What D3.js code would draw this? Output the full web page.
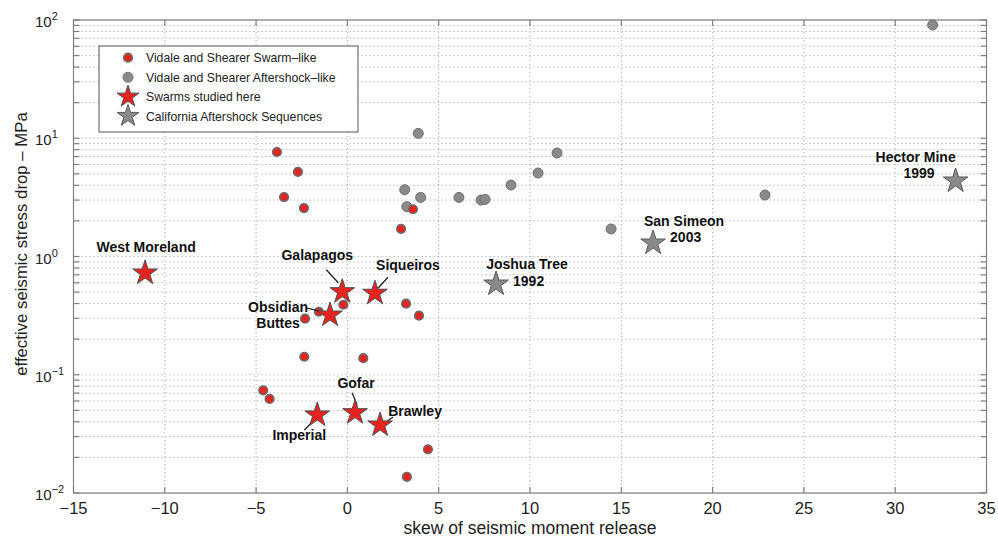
<!DOCTYPE html>
<html><head><meta charset="utf-8">
<script src="https://cdn.jsdelivr.net/npm/d3@7"></script>
<style>body{margin:0;background:#fff}text{font-family:"Liberation Sans",Arial,Helvetica,sans-serif}</style>
</head><body><svg id="c" width="998" height="537"></svg>
<script>
// ---- data ----
const swarmSkew   = [-3.86,-2.71,-3.47,-2.38,2.94,3.59,3.21,3.92,-0.22,-1.56,-2.32,-2.36,0.87,-4.61,-4.26,4.41,3.26];
const swarmStress = [7.65,5.19,3.18,2.57,1.71,2.51,0.399,0.316,0.391,0.341,0.298,0.142,0.138,0.0739,0.0624,0.0234,0.0137];
const afterSkew   = [3.88,3.14,4.01,3.25,6.11,7.32,7.54,8.96,10.44,11.48,14.44,22.87,32.05];
const afterStress = [11.0,3.67,3.16,2.64,3.16,3.0,3.04,4.02,5.08,7.5,1.71,3.31,90.7];
const studiedNames  = ["West Moreland","Galapagos","Siqueiros","Obsidian Buttes","Imperial","Gofar","Brawley"];
const studiedSkew   = [-11.08,-0.28,1.51,-0.95,-1.65,0.42,1.79];
const studiedStress = [0.725,0.504,0.489,0.32,0.0457,0.0478,0.0376];
const caliNames  = ["Joshua Tree","San Simeon","Hector Mine"];
const caliYears  = ["1992","2003","1999"];
const caliSkew   = [8.14,16.74,33.31];
const caliStress = [0.585,1.30,4.35];
const xTicks = [-15,-10,-5,0,5,10,15,20,25,30,35];
const yTickExps = [-2,-1,0,1,2];
const legendLabels = ["Vidale and Shearer Swarm\u2013like","Vidale and Shearer Aftershock\u2013like","Swarms studied here","California Aftershock Sequences"];
const xTitle = "skew of seismic moment release";
const yTitle = "effective seismic stress drop \u2013 MPa";

// ---- layout (pixel offsets relative to the star) ----
const studiedLayout = {
  "West Moreland":  {lines:["West Moreland"], dx:1, dy:-21},
  "Galapagos":      {lines:["Galapagos"], dx:-25, dy:-32, lead:[-16,-22,-4,-9]},
  "Siqueiros":      {lines:["Siqueiros"], dx:33, dy:-23, lead:[13,-16,3,-5]},
  "Obsidian Buttes":{lines:["Obsidian","Buttes"], dx:-52, dy:-3, lead:[-23,-7,-6,-3]},
  "Imperial":       {lines:["Imperial"], dx:-18, dy:25, lead:[-13,15,-6,8]},
  "Gofar":          {lines:["Gofar"], dx:1, dy:-25, lead:[-3,-20,2,-8]},
  "Brawley":        {lines:["Brawley"], dx:35, dy:-9, lead:[13,-8,6,-3]}
};
const caliLayout = [
  {ndx:31, ndy:-15, ydx:17, ydy:2, yanchor:"start"},
  {ndx:31, ndy:-17, ydx:17, ydy:-1, yanchor:"start"},
  {ndx:-40, ndy:-19, ydx:-21, ydy:-3, yanchor:"end"}
];

const W=998,H=537, L=73.5, R=986.5, T=20, B=493;
const svg = d3.select("#c");
const x = d3.scaleLinear().domain([-15,35]).range([L,R]);
const y = d3.scaleLog().domain([0.01,100]).range([B,T]);

const RED="#e5231f", GREY="#8a8a8a", AX="#808080";

// grid
const g = svg.append("g");
g.selectAll("line.h").data(y.ticks()).join("line")
  .attr("x1",L).attr("x2",R).attr("y1",d=>y(d)).attr("y2",d=>y(d))
  .attr("stroke","#a8a8a8").attr("stroke-width",1).attr("stroke-dasharray","1.2,2.8");
g.selectAll("line.v").data(xTicks).join("line")
  .attr("y1",T).attr("y2",B).attr("x1",d=>x(d)).attr("x2",d=>x(d))
  .attr("stroke","#a8a8a8").attr("stroke-width",1).attr("stroke-dasharray","1.2,2.8");

// axes box + ticks
const ax = svg.append("g").attr("stroke",AX).attr("stroke-width",1.2);
ax.append("rect").attr("x",L).attr("y",T).attr("width",R-L).attr("height",B-T).attr("fill","none");
const tl=6;
xTicks.forEach(t=>{
  ax.append("line").attr("x1",x(t)).attr("x2",x(t)).attr("y1",B).attr("y2",B-tl);
  ax.append("line").attr("x1",x(t)).attr("x2",x(t)).attr("y1",T).attr("y2",T+tl);
});
y.ticks().forEach(t=>{
  ax.append("line").attr("x1",L).attr("x2",L+tl).attr("y1",y(t)).attr("y2",y(t));
  ax.append("line").attr("x1",R).attr("x2",R-tl).attr("y1",y(t)).attr("y2",y(t));
});

// tick labels
svg.append("g").selectAll("text").data(xTicks).join("text")
  .attr("x",d=>x(d)).attr("y",514).attr("text-anchor","middle")
  .attr("font-size",16.5).attr("fill","#222")
  .text(d=>d<0?"\u2212"+Math.abs(d):d);
const yl = svg.append("g").selectAll("text").data(yTickExps).join("text")
  .attr("x",35).attr("y",d=>y(Math.pow(10,d))+7).attr("font-size",15).attr("fill","#222");
yl.append("tspan").text("10");
yl.append("tspan").attr("dy",-7).attr("font-size",11).text(d=>d<0?"\u2212"+Math.abs(d):d);

// titles
svg.append("text").attr("x",(L+R)/2).attr("y",534).attr("text-anchor","middle")
  .attr("font-size",17.5).attr("fill","#222").text(xTitle);
svg.append("text").attr("transform","translate(27,244) rotate(-90)").attr("text-anchor","middle")
  .attr("font-size",16.8).attr("fill","#222").text(yTitle);

// points
svg.append("g").selectAll("circle").data(afterSkew.map((s,i)=>[s,afterStress[i]])).join("circle")
  .attr("cx",d=>x(d[0])).attr("cy",d=>y(d[1])).attr("r",5)
  .attr("fill",GREY).attr("stroke","#707070").attr("stroke-width",1);
svg.append("g").selectAll("circle").data(swarmSkew.map((s,i)=>[s,swarmStress[i]])).join("circle")
  .attr("cx",d=>x(d[0])).attr("cy",d=>y(d[1])).attr("r",4.3)
  .attr("fill",RED).attr("stroke","#6a6a6a").attr("stroke-width",1.6);

const starR=13;
const star = d3.symbol().type(d3.symbolStar).size(starR*starR/0.8908130915292852);
const starL = d3.symbol().type(d3.symbolStar).size(11.5*11.5/0.8908130915292852);

// leader lines + stars studied
const lg = svg.append("g");
const sg = svg.append("g");
const tg = svg.append("g").attr("font-size",14).attr("font-weight","bold").attr("fill","#111");
studiedNames.forEach((n,i)=>{
  const px=x(studiedSkew[i]), py=y(studiedStress[i]), lay=studiedLayout[n];
  if(lay.lead) lg.append("line").attr("x1",px+lay.lead[0]).attr("y1",py+lay.lead[1])
     .attr("x2",px+lay.lead[2]).attr("y2",py+lay.lead[3]).attr("stroke","#222").attr("stroke-width",1.3);
  sg.append("path").attr("d",star()).attr("transform",`translate(${px},${py})`)
     .attr("fill",RED).attr("stroke","#505050").attr("stroke-width",1);
  lay.lines.forEach((ln,k)=>{
    tg.append("text").attr("x",px+lay.dx).attr("y",py+lay.dy+k*16).attr("text-anchor","middle").text(ln);
  });
});
caliNames.forEach((n,i)=>{
  const px=x(caliSkew[i]), py=y(caliStress[i]), lay=caliLayout[i];
  sg.append("path").attr("d",star()).attr("transform",`translate(${px},${py})`)
     .attr("fill",GREY).attr("stroke","#5a5a5a").attr("stroke-width",1);
  tg.append("text").attr("x",px+lay.ndx).attr("y",py+lay.ndy).attr("text-anchor","middle").text(n);
  tg.append("text").attr("x",px+lay.ydx).attr("y",py+lay.ydy).attr("text-anchor",lay.yanchor).text(caliYears[i]);
});

// legend
const leg = svg.append("g");
leg.append("rect").attr("x",99).attr("y",46).attr("width",259).attr("height",86)
  .attr("fill","#fff").attr("stroke","#555").attr("stroke-width",1);
const rowsY=[57.7,77.3,96.7,116];
leg.append("circle").attr("cx",128).attr("cy",rowsY[0]).attr("r",4.3).attr("fill",RED).attr("stroke","#6a6a6a").attr("stroke-width",1.6);
leg.append("circle").attr("cx",128).attr("cy",rowsY[1]).attr("r",5).attr("fill",GREY).attr("stroke","#707070");
leg.append("path").attr("d",starL()).attr("transform",`translate(128,${rowsY[2]})`).attr("fill",RED).attr("stroke","#505050");
leg.append("path").attr("d",starL()).attr("transform",`translate(128,${rowsY[3]})`).attr("fill",GREY).attr("stroke","#5a5a5a");
leg.selectAll("text").data(legendLabels).join("text")
  .attr("x",146).attr("y",(d,i)=>rowsY[i]+4.5).attr("font-size",12.2).attr("fill","#222").text(d=>d);
</script></body></html>
